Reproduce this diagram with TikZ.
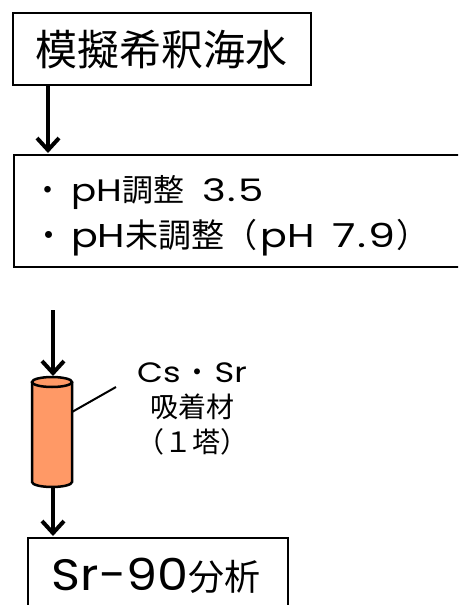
\documentclass[tikz,border=0pt]{standalone}
\usepackage{fontspec}
\setmainfont{Noto Sans CJK JP}
\newfontfamily\latf[FakeStretch=1.2]{Poppins}
\newfontfamily\latb[FakeStretch=1.12]{Poppins}
\newfontfamily\numf[FakeStretch=1.3]{Poppins}
\newcommand\latx[1]{{\latf #1}}
\newcommand\dotnum[2]{{\numf #1\hspace{2pt}.\hspace{2pt}#2}}
\usetikzlibrary{arrows.meta}
\tikzset{
  boxnode/.style={draw=black, line width=1.5pt, fill=white, inner sep=0pt},
  flowarrow/.style={line width=4pt, -{Straight Barb[length=12pt,width=22pt]}},
  leader/.style={line width=2pt},
  cyl/.style={draw=black, line width=2.5pt, fill=colcyl},
}
\definecolor{colcyl}{HTML}{FF9966}
\begin{document}
\begin{tikzpicture}[x=1pt,y=-1pt]
\clip (0,0) rectangle (458,605);
\fill[white] (0,0) rectangle (458,605);
% top box
\node[boxnode, minimum width=298pt, minimum height=72pt, anchor=north west] (src) at (12,12) {};
\node[font=\fontsize{42pt}{48pt}\selectfont] (srct) at (161,50) {模擬希釈海水};
% second box
\node[boxnode, minimum width=480pt, minimum height=112pt, anchor=north west] (cond) at (13,154) {};
\node[font=\fontsize{31pt}{46pt}\selectfont, align=left, anchor=west, inner sep=0pt] (condt) at (32,216)
  {・\hspace{8pt}\latx{pH}調整\hspace{18pt}\dotnum{3}{5}\\
   {\fontsize{33pt}{46pt}\selectfont ・\hspace{6pt}\latx{pH}未調整（\hspace{3pt}\latx{pH}\hspace{18pt}\dotnum{7}{9}）}};
% arrow 1
\coordinate (a1s) at (48,84);
\coordinate (a1e) at (48,153);
\draw[flowarrow] (a1s) -- (a1e);
% cylinder
\draw[cyl] (32,382) -- (32,482) arc (180:0:20 and 5) -- (72,382);
\draw[cyl] (52,382) ellipse (20 and 5);
\coordinate (cyltop) at (53,376);
\coordinate (cylbot) at (53,487);
\coordinate (cylside) at (72,412);
% arrow 2
\coordinate (a2s) at (53,310);
\draw[flowarrow] (a2s) -- (cyltop);
% label
\node[font=\fontsize{28pt}{35pt}\selectfont, align=center] (lab) at (192,409) {\latx{Cs}\hspace{3pt}・\hspace{3pt}\latx{Sr}\\吸着材\\（１塔）};
\coordinate (labend) at (116,387);
\draw[leader] (cylside) -- (labend);
% bottom box
\node[boxnode, minimum width=260pt, minimum height=100pt, anchor=north west] (ana) at (27,537) {};
\node[font=\fontsize{36pt}{42pt}\selectfont] (anat) at (156,576) {{\fontsize{44pt}{48pt}\selectfont\latb Sr-90}分析};
% arrow 3
\coordinate (a3e) at (53,536);
\draw[flowarrow] (cylbot) -- (a3e);
\end{tikzpicture}
\end{document}
